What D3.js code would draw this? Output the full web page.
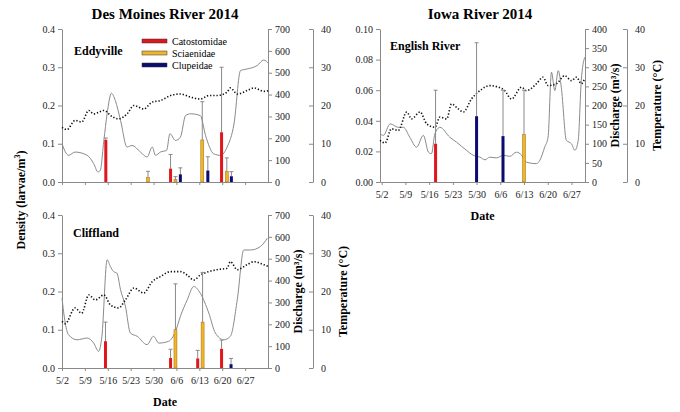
<!DOCTYPE html>
<html><head><meta charset="utf-8">
<script src="https://cdn.jsdelivr.net/npm/d3@7"></script>
<style>body{margin:0;background:#fff}text{font-family:"Liberation Serif","Times New Roman",serif}</style>
</head><body><div id="chart"></div>
<script>
// days counted from 5/2
var tickDays = [0, 7, 14, 21, 28, 35, 42, 49, 56];
var tickLabels = ["5/2", "5/9", "5/16", "5/23", "5/30", "6/6", "6/13", "6/20", "6/27"];
var families = ["Catostomidae", "Sciaenidae", "Clupeidae"];
var famColors = ["#e0161c", "#f2b52a", "#0b0b72"];

// Eddyville
var eddyQ = [[0,175],[2,122],[4,137],[7.7,122],[9.7,84],[11,46],[11.7,53],[12.8,190],[13.8,312],[15.1,406],[16.3,373],[17.9,282],[19.9,160],[21.4,167],[24,137],[26,114],[27.6,160],[28.6,122],[30.1,137],[32,145],[33,221],[34.7,190],[36.2,205],[37.8,304],[39.3,312],[42.3,304],[43.9,213],[46.4,129],[48.5,122],[50.5,160],[52.6,266],[54.6,510],[56.6,517],[59.7,533],[61.7,558],[63.3,540]];
var eddyT = [[0,14.3],[1.5,13.7],[4,16.1],[6,15.7],[8.2,18.7],[9.7,17.8],[12.8,18.7],[15.3,17.1],[17.3,16.5],[19.9,17.8],[22,20],[25,19.1],[27.6,20.9],[30.1,21.3],[33.2,22.6],[36.2,23],[39.3,22.2],[42.3,21.7],[44.9,22.6],[47.4,22.6],[50.5,23.5],[51.5,24.6],[53.6,23],[56.6,23.9],[58.7,24.6],[61.7,23.7],[63.3,23.9]];
var eddyBars = [[13.4,0,0.11,0.115],[33.2,0,0.035,0.072],[48.8,0,0.13,0.30],[26.3,1,0.012,0.028],[34.7,1,0.006,0.014],[42.9,1,0.11,0.21],[50.4,1,0.027,0.063],[36.2,2,0.02,0.037],[44.6,2,0.03,0.066],[51.8,2,0.015,0.027]];

// Cliffland
var cliffQ = [[0,320],[1,205],[2,152],[4.6,129],[7.7,137],[9.7,114],[11.2,76],[12.2,145],[13.8,495],[14.8,464],[15.8,441],[16.8,434],[17.9,358],[19.4,282],[20.9,160],[23,145],[26,107],[28,145],[29.6,114],[32.6,122],[34.7,167],[36.2,236],[38.3,312],[40.3,373],[42.3,342],[44.9,251],[46.9,160],[49.5,129],[51.5,145],[53.6,312],[55.6,540],[57.7,540],[60.7,556],[62.8,594]];
var cliffT = [[0,12.2],[1,11.6],[4,15.7],[6,14.3],[8.2,19.1],[10.2,17.8],[12.8,19.1],[14.8,16.5],[17.3,15.7],[19.4,17.8],[22,20.9],[25,19.6],[27.6,22.6],[30.1,23.9],[33.2,25.2],[36.2,25.2],[38.3,24.3],[40.3,23],[42.3,24.3],[44.9,25.2],[47.4,25.7],[50.5,26.1],[51.5,27.8],[53.6,25.7],[56.6,27],[58.7,27.8],[61.7,27],[63.3,26.5]];
var cliffBars = [[13.3,0,0.07,0.12],[33.2,0,0.026,0.049],[34.7,1,0.10,0.22],[41.5,0,0.025,0.046],[43,1,0.12,0.25],[48.8,0,0.05,0.073],[51.7,2,0.01,0.025]];

// English River
var engQ = [[-0.5,126],[0.5,122],[2.5,152],[4.9,143],[6.4,143],[8.3,117],[10.3,91],[12.3,122],[13.8,78],[14.7,74],[15.7,126],[17.2,143],[20.1,117],[22.1,104],[25,83],[27,70],[29,65],[30.5,58],[31.9,65],[33.9,63],[35.9,70],[37.8,67],[39.8,78],[41.3,70],[42.7,52],[45.7,48],[46.7,57],[48.1,91],[49.1,117],[50.1,287],[51.1,239],[52.1,291],[53,248],[54.5,109],[56,100],[57,83],[58,109],[58.9,265],[59.9,326]];
var engT = [[-0.5,10.9],[1,10.2],[2.9,13.9],[4.9,13.5],[7.4,18.3],[8.8,16.5],[11.3,18.3],[13.3,15.2],[15.7,14.3],[17.2,17],[19.2,16.5],[20.6,20.4],[22.6,19.1],[24.1,18.3],[26.5,21.7],[29,23.9],[31.9,25.2],[34.4,24.8],[36.3,23.9],[38.3,21.7],[41.3,24.8],[42.7,23.9],[45.7,25.7],[47.6,27.4],[49.1,25.2],[51.6,25.7],[54,27.8],[56,26.5],[57.5,27.4],[58.9,25.7],[59.9,27]];
var engBars = [[15.9,0,0.025,0.06],[28,2,0.043,0.091],[35.8,2,0.030,0.06],[42,1,0.031,0.06]];

var svg = d3.select("#chart").append("svg").attr("width", 680).attr("height", 412);
var gray = "#8a8a8a";

function panel(o) {
    var x = d3.scaleLinear().domain(o.xDom).range([o.x0, o.x1]);
    var yD = d3.scaleLinear().domain([0, o.dMax]).range([o.y1, o.y0]);
    var yQ = d3.scaleLinear().domain([0, o.qMax]).range([o.y1, o.y0]);
    var yT = d3.scaleLinear().domain([0, 40]).range([o.y1, o.y0]);
    var g = svg.append("g");

    function style(ax) {
        ax.attr("font-family", null);
        ax.selectAll("path,line").attr("stroke", gray);
        ax.selectAll("text").attr("font-size", 10).attr("fill", "#222");
    }
    var ax = g.append("g").attr("transform", `translate(${o.x0},0)`)
        .call(d3.axisLeft(yD).tickValues(d3.range(0, o.dMax + 1e-9, o.dStep)).tickFormat(d3.format(o.dFmt)).tickSize(4).tickSizeOuter(0));
    style(ax);
    ax = g.append("g").attr("transform", `translate(${o.x1},0)`)
        .call(d3.axisRight(yQ).ticks(o.qMax / (o.qMax > 500 ? 100 : 50)).tickSize(4).tickSizeOuter(0));
    style(ax);
    ax = g.append("g").attr("transform", `translate(${o.tx},0)`)
        .call(d3.axisRight(yT).tickValues([0, 10, 20, 30, 40]).tickSize(-4).tickPadding(8).tickSizeOuter(0));
    style(ax);
    ax = g.append("g").attr("transform", `translate(0,${o.y1})`)
        .call(d3.axisBottom(x).tickValues(tickDays).tickFormat((d, i) => o.dates ? tickLabels[i] : "").tickSize(3).tickSizeOuter(0));
    style(ax);
    ax.selectAll("text").attr("dy", "1em");

    // discharge and temperature
    g.append("path").datum(o.q).attr("fill", "none").attr("stroke", gray).attr("stroke-width", 1)
        .attr("d", d3.line().curve(d3.curveMonotoneX).x(d => x(d[0])).y(d => yQ(d[1])));
    g.append("path").datum(o.t).attr("fill", "none").attr("stroke", "#111").attr("stroke-width", 1.6)
        .attr("stroke-dasharray", "1.3,1.9")
        .attr("d", d3.line().curve(d3.curveMonotoneX).x(d => x(d[0])).y(d => yT(d[1])));

    // error bars and bars
    g.selectAll(".err").data(o.bars).enter().append("line")
        .attr("x1", d => x(d[0])).attr("x2", d => x(d[0]))
        .attr("y1", d => yD(d[2])).attr("y2", d => yD(d[3])).attr("stroke", gray);
    g.selectAll(".cap").data(o.bars).enter().append("line")
        .attr("x1", d => x(d[0]) - 2).attr("x2", d => x(d[0]) + 2)
        .attr("y1", d => yD(d[3])).attr("y2", d => yD(d[3])).attr("stroke", gray);
    g.selectAll(".bar").data(o.bars).enter().append("rect")
        .attr("x", d => x(d[0]) - 1.5).attr("width", 3)
        .attr("y", d => yD(d[2])).attr("height", d => yD(0) - yD(d[2]))
        .attr("fill", d => famColors[d[1]]).attr("stroke", d => d[1] == 1 ? "#9a6d10" : "none").attr("stroke-width", 0.5);

    g.append("text").attr("x", o.lx).attr("y", o.ly).attr("font-size", 12).attr("font-weight", "bold").text(o.label);

    if (o.rightLabels) {
        var my = (o.y0 + o.y1) / 2;
        g.append("text").attr("transform", `translate(${o.x1 + 34},${my}) rotate(-90)`).attr("text-anchor", "middle")
            .attr("font-size", 12).attr("font-weight", "bold").text("Discharge (m³/s)");
        g.append("text").attr("transform", `translate(${o.tx + 34},${my}) rotate(-90)`).attr("text-anchor", "middle")
            .attr("font-size", 12).attr("font-weight", "bold").text("Temperature (°C)");
    }
    if (o.dates) {
        g.append("text").attr("x", (o.x0 + o.x1) / 2).attr("y", o.y1 + 38).attr("text-anchor", "middle")
            .attr("font-size", 12).attr("font-weight", "bold").text("Date");
    }
}

panel({x0: 62, x1: 268, y0: 29, y1: 182, tx: 313, xDom: [0, 63], dMax: 0.4, dStep: 0.1, dFmt: ".1f", qMax: 700,
    q: eddyQ, t: eddyT, bars: eddyBars, label: "Eddyville", lx: 74, ly: 55, dates: false});
panel({x0: 62, x1: 268, y0: 215, y1: 368, tx: 313, xDom: [0, 63], dMax: 0.4, dStep: 0.1, dFmt: ".1f", qMax: 700,
    q: cliffQ, t: cliffT, bars: cliffBars, label: "Cliffland", lx: 73, ly: 237, dates: true, rightLabels: true});
panel({x0: 380, x1: 585, y0: 29, y1: 182, tx: 627, xDom: [-0.5, 60], dMax: 0.1, dStep: 0.02, dFmt: ".2f", qMax: 400,
    q: engQ, t: engT, bars: engBars, label: "English River", lx: 390, ly: 50, dates: true, rightLabels: true});

// titles
svg.append("text").attr("x", 165).attr("y", 19).attr("text-anchor", "middle").attr("font-size", 15).attr("font-weight", "bold").text("Des Moines River 2014");
svg.append("text").attr("x", 480).attr("y", 19).attr("text-anchor", "middle").attr("font-size", 15).attr("font-weight", "bold").text("Iowa River 2014");

// shared y label
var yl = svg.append("text").attr("transform", "translate(25,200) rotate(-90)").attr("text-anchor", "middle")
    .attr("font-size", 12).attr("font-weight", "bold");
yl.append("tspan").text("Density (larvae/m");
yl.append("tspan").attr("font-size", 8).attr("dy", -5).text("3");
yl.append("tspan").attr("dy", 5).text(")");

// legend
var leg = svg.append("g");
families.forEach(function(f, i) {
    leg.append("rect").attr("x", 142).attr("y", 39 + i * 12).attr("width", 25).attr("height", 4)
        .attr("fill", famColors[i]).attr("stroke", "#333").attr("stroke-width", 0.5);
    leg.append("text").attr("x", 172).attr("y", 45 + i * 12).attr("font-size", 10).text(f);
});
</script></body></html>
